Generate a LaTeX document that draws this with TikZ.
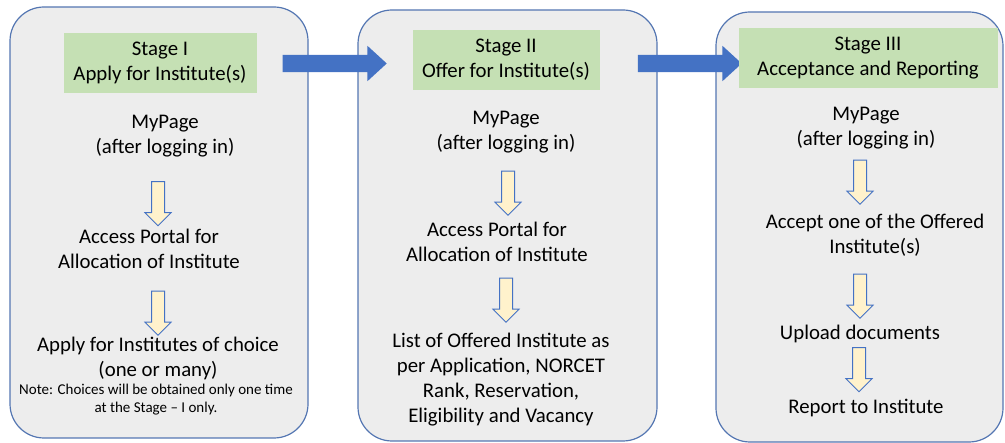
\documentclass[tikz,border=0pt]{standalone}
\usepackage{fontspec}
\setmainfont{Carlito}
\usetikzlibrary{shapes,arrows}
\usetikzlibrary{positioning}

\definecolor{boxGray}{RGB}{237,237,237}
\definecolor{boxBlue}{RGB}{68,114,196}
\definecolor{edgeBlue}{RGB}{84,118,178}
\definecolor{labelGreen}{RGB}{197,224,180}
\definecolor{arrowYellow}{RGB}{255,242,204}

\begin{document}
\begin{tikzpicture}[x=1pt,y=-1pt,every text node part/.style={align=center}]
\tikzset{myFont/.style={font=\fontsize{20.8}{25}\selectfont}}
\tikzset{noteFont/.style={font=\fontsize{15}{18}\selectfont}}
\tikzset{stageBox/.style={draw=edgeBlue,line width=1.2pt,fill=boxGray,rounded corners=34pt}}
\tikzset{stageLabel/.style={fill=labelGreen,minimum height=60pt,inner sep=0pt,myFont}}
\tikzset{myText/.style={inner sep=0pt,myFont}}
\tikzset{downArrow/.style={single arrow,draw=boxBlue,line width=1pt,fill=arrowYellow,shape border rotate=270,minimum height=44pt,inner sep=6pt,single arrow head extend=6.5pt,single arrow tip angle=90}}
\tikzset{flowArrow/.style={single arrow,fill=boxBlue,minimum height=104pt,inner sep=8.5pt,single arrow head extend=9pt,single arrow tip angle=85}}

\useasboundingbox (0,0) rectangle (1005,443);

\node[stageBox,minimum width=298pt,minimum height=431pt] (stage1) at (159,222.5) {};
\node[stageBox,minimum width=299pt,minimum height=431pt] (stage2) at (507.5,225.5) {};
\node[stageBox,minimum width=287pt,minimum height=430pt] (stage3) at (859.5,227) {};

\node[flowArrow] (next1) at (330,63.5) {};
\node[flowArrow] (next2) at (685,63.5) {};

\node[stageLabel,minimum width=193pt] (label1) at (160,63) {Stage I\\Apply for Institute(s)};
\node[myText] (myPage1) at (165,136) {MyPage\\(after logging in)};
\node[downArrow] (down11) at (158,200.5) {};
\node[myText] (portal1) at (149,249) {Access Portal for\\Allocation of Institute};
\node[downArrow] (down12) at (158,310) {};
\node[myText] (apply1) at (158,358) {Apply for Institutes of choice\\(one or many)};
\node[noteFont,inner sep=0pt,anchor=west,align=left] (note1) at (19,400) {Note: Choices will be obtained only one time\\at the Stage – I only.};

\node[stageLabel,minimum width=187pt] (label2) at (506,60) {Stage II\\Offer for Institute(s)};
\node[myText] (myPage2) at (506,132) {MyPage\\(after logging in)};
\node[downArrow] (down21) at (508,190) {};
\node[myText] (portal2) at (497,242) {Access Portal for\\Allocation of Institute};
\node[downArrow] (down22) at (506,297) {};
\node[myText] (list2) at (501,380) {List of Offered Institute as\\per Application, NORCET\\Rank, Reservation,\\Eligibility and Vacancy};

\node[stageLabel,minimum width=259pt] (label3) at (868,58) {Stage III\\Acceptance and Reporting};
\node[myText] (myPage3) at (866,128) {MyPage\\(after logging in)};
\node[downArrow] (down31) at (860,179) {};
\node[myText] (accept3) at (875,235) {Accept one of the Offered\\Institute(s)};
\node[downArrow] (down32) at (860,293) {};
\node[myText] (upload3) at (860,334) {Upload documents};
\node[downArrow] (down33) at (859,366.5) {};
\node[myText] (report3) at (866,408) {Report to Institute};
\end{tikzpicture}
\end{document}
